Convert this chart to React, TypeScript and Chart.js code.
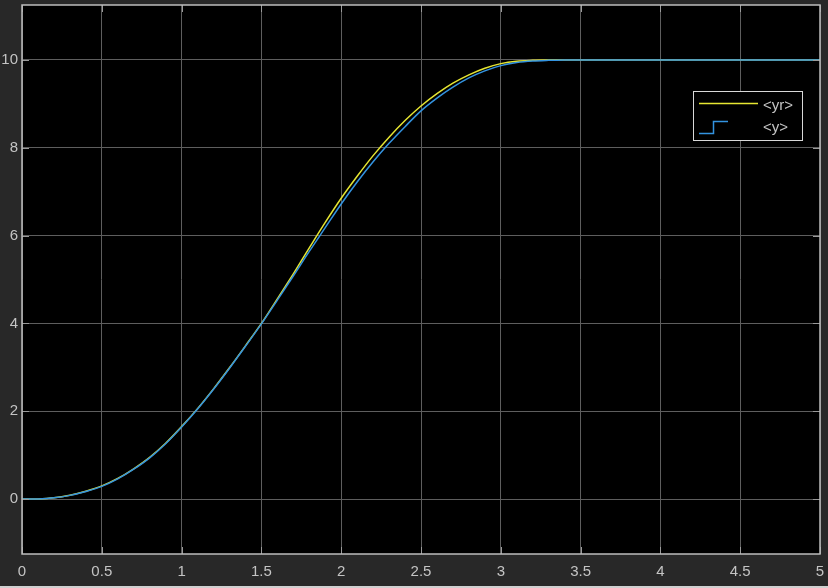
import React, { useEffect, useRef } from "react";
import { Chart, registerables } from "chart.js";

Chart.register(...registerables);

const times = [0, 0.1, 0.2, 0.3, 0.4, 0.5, 0.6, 0.7, 0.8, 0.9, 1.0, 1.1, 1.2, 1.3, 1.4, 1.5, 1.6, 1.7, 1.8, 1.9, 2.0, 2.1, 2.2, 2.3, 2.4, 2.5, 2.6, 2.7, 2.8, 2.9, 3.0, 3.1, 3.2, 3.3, 3.4, 3.5, 4.0, 4.5, 5.0];
const yrValues = [0, 0.005, 0.03, 0.09, 0.18, 0.30, 0.47, 0.69, 0.95, 1.27, 1.65, 2.06, 2.51, 2.99, 3.49, 4.00, 4.56, 5.13, 5.72, 6.30, 6.85, 7.35, 7.82, 8.24, 8.62, 8.95, 9.23, 9.47, 9.66, 9.81, 9.915, 9.97, 9.99, 9.997, 10, 10, 10, 10, 10];
const yValues = [0, 0.004, 0.028, 0.085, 0.175, 0.29, 0.46, 0.68, 0.94, 1.26, 1.64, 2.05, 2.50, 2.98, 3.48, 3.99, 4.53, 5.08, 5.64, 6.18, 6.72, 7.22, 7.68, 8.10, 8.48, 8.84, 9.13, 9.38, 9.59, 9.75, 9.87, 9.94, 9.975, 9.99, 9.998, 10, 10, 10, 10];
const xTicks = [0, 0.5, 1, 1.5, 2, 2.5, 3, 3.5, 4, 4.5, 5];
const yTicks = [0, 2, 4, 6, 8, 10];
const legendLabels = ["<yr>", "<y>"];

const YELLOW = "#e6e632";
const BLUE = "#3393e0";
const GRID = "#5e5e5e";
const BORDER = "#bdbdbd";
const TEXT = "#c4c4c4";
const FONT = "'Liberation Sans', Arial, sans-serif";

const framePlugin = {
  id: "frame",
  beforeDraw(chart: any) {
    const { ctx, chartArea: a } = chart;
    ctx.save();
    ctx.fillStyle = "#000000";
    ctx.fillRect(a.left, a.top, a.right - a.left, a.bottom - a.top);
    ctx.restore();
  },
  afterDraw(chart: any) {
    const { ctx, chartArea: a, scales } = chart;
    ctx.save();
    // inner tick marks
    ctx.strokeStyle = "#9a9a9a";
    ctx.lineWidth = 1;
    const tl = 7;
    ctx.beginPath();
    xTicks.forEach((v) => {
      const x = Math.round(scales.x.getPixelForValue(v)) + 0.5;
      ctx.moveTo(x, a.bottom);
      ctx.lineTo(x, a.bottom - tl);
      ctx.moveTo(x, a.top);
      ctx.lineTo(x, a.top + tl);
    });
    yTicks.forEach((v) => {
      const y = Math.round(scales.y.getPixelForValue(v)) + 0.5;
      ctx.moveTo(a.left, y);
      ctx.lineTo(a.left + tl, y);
      ctx.moveTo(a.right, y);
      ctx.lineTo(a.right - tl, y);
    });
    ctx.stroke();
    // box
    ctx.strokeStyle = BORDER;
    ctx.lineWidth = 1.5;
    ctx.strokeRect(a.left, a.top, a.right - a.left, a.bottom - a.top);

    // legend
    const bx = a.right - 127;
    const by = a.top + 86;
    const bw = 109;
    const bh = 49;
    ctx.fillStyle = "#000000";
    ctx.fillRect(bx, by, bw, bh);
    ctx.strokeStyle = "#d8d8d8";
    ctx.lineWidth = 1;
    ctx.strokeRect(bx + 0.5, by + 0.5, bw, bh);

    ctx.strokeStyle = YELLOW;
    ctx.lineWidth = 1.5;
    ctx.beginPath();
    ctx.moveTo(bx + 6, by + 12.5);
    ctx.lineTo(bx + 65, by + 12.5);
    ctx.stroke();

    ctx.strokeStyle = BLUE;
    ctx.beginPath();
    ctx.moveTo(bx + 6, by + 42.5);
    ctx.lineTo(bx + 20.5, by + 42.5);
    ctx.lineTo(bx + 20.5, by + 30.5);
    ctx.lineTo(bx + 35, by + 30.5);
    ctx.stroke();

    ctx.fillStyle = TEXT;
    ctx.font = `15px ${FONT}`;
    ctx.textBaseline = "middle";
    ctx.textAlign = "left";
    ctx.fillText(legendLabels[0], bx + 70, by + 15);
    ctx.fillText(legendLabels[1], bx + 70, by + 37);
    ctx.restore();
  },
};

export default function App() {
  const canvasRef = useRef<HTMLCanvasElement | null>(null);

  useEffect(() => {
    document.body.style.margin = "0";
    const canvas = canvasRef.current;
    if (!canvas) return;
    const chart = new Chart(canvas, {
      type: "line",
      data: {
        datasets: [
          {
            label: legendLabels[1],
            data: times.map((t, i) => ({ x: t, y: yValues[i] })),
            borderColor: BLUE,
            borderWidth: 1.5,
            pointRadius: 0,
            cubicInterpolationMode: "monotone",
            fill: false,
          },
          {
            label: legendLabels[0],
            data: times.map((t, i) => ({ x: t, y: yrValues[i] })),
            borderColor: YELLOW,
            borderWidth: 1.5,
            pointRadius: 0,
            cubicInterpolationMode: "monotone",
            fill: false,
          },
        ],
      },
      options: {
        animation: false,
        responsive: false,
        maintainAspectRatio: false,
        layout: { padding: { left: 0, right: 8, top: 5, bottom: 0 } },
        plugins: {
          legend: { display: false },
          tooltip: { enabled: false },
        },
        scales: {
          x: {
            type: "linear",
            min: 0,
            max: 5,
            afterBuildTicks: (scale: any) => {
              scale.ticks = xTicks.map((v) => ({ value: v }));
            },
            afterFit: (scale: any) => {
              scale.height = 34;
              scale.paddingLeft = 0;
              scale.paddingRight = 0;
            },
            grid: { color: GRID, drawTicks: false, lineWidth: 1 },
            border: { display: false },
            ticks: {
              color: TEXT,
              font: { size: 15, family: FONT },
              padding: 9,
              maxRotation: 0,
              autoSkip: false,
              callback: (v: any) => String(v),
            },
          },
          y: {
            type: "linear",
            min: -1.25,
            max: 11.25,
            afterBuildTicks: (scale: any) => {
              scale.ticks = yTicks.map((v) => ({ value: v }));
            },
            afterFit: (scale: any) => {
              scale.width = 22;
              scale.paddingTop = 0;
              scale.paddingBottom = 0;
            },
            grid: { color: GRID, drawTicks: false, lineWidth: 1 },
            border: { display: false },
            ticks: {
              color: TEXT,
              font: { size: 15, family: FONT },
              padding: 4,
              autoSkip: false,
              callback: (v: any) => String(v),
            },
          },
        },
      },
      plugins: [framePlugin],
    });
    return () => chart.destroy();
  }, []);

  return (
    <div
      style={{
        width: 828,
        height: 588,
        background: "#282828",
        position: "relative",
        overflow: "hidden",
      }}
    >
      <canvas ref={canvasRef} width={828} height={588} style={{ display: "block" }} />
      <div style={{ position: "absolute", left: 0, bottom: 0, width: 828, height: 2, background: "#d0d0d0" }} />
    </div>
  );
}
